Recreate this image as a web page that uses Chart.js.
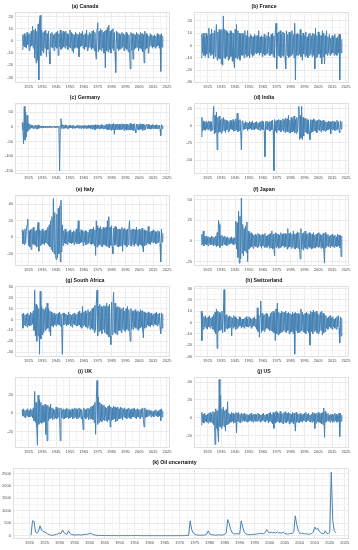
<!DOCTYPE html>
<html>
<head>
<meta charset="utf-8">
<script src="https://cdn.jsdelivr.net/npm/chart.js@4"></script>
<style>
  body { margin: 0; background: #fff; width: 358px; height: 550px; position: relative; overflow: hidden; }
  canvas { position: absolute; }
</style>
</head>
<body>
<script>
// half-year observations, 1920.5 .. 2022.0
const START_YEAR = 1920.5;
const STEP = 0.5;

const countryXTicks = [1925, 1935, 1945, 1955, 1965, 1975, 1985, 1995, 2005, 2015, 2025];
const oilXTicks = [1920, 1925, 1930, 1935, 1940, 1945, 1950, 1955, 1960, 1965, 1970, 1975, 1980, 1985, 1990, 1995, 2000, 2005, 2010, 2015, 2020, 2025];

const canada = [
  -7, 5, -4, 6, -5, 4, -6, 7, -3, 5, -8, 6, -5, 8, -4, 12, -6, 9, -14, 10,
  -18, 8, -16, 14, -32, 17, 21, -12, 9, -8, 7, -10, 8, -6, 9, -13, 6, -7, 8, -9,
  -19, 6, -5, 7, -6, 5, -8, 6, -5, 7, -6, 8, -12, 6, -5, 9, -7, 6, -6, 8,
  -5, 7, -6, 8, -4, 6, -7, 5, -5, 9, -6, 7, -8, 6, -10, 5, -6, 7, -5, 6,
  -6, 5, -13, 7, -5, 6, -4, 8, -6, 5, -7, 6, -5, 9, -8, 5, -6, 7, -5, 6,
  -7, 8, -6, 9, -8, 7, -9, -15, 10, 15, -9, 8, -7, 10, -8, 9, -6, 7, -10, 8,
  -22, 9, -8, 11, -9, 13, -7, 8, -10, 9, -6, 10, -8, 7, -9, -26, 8, -6, 7, -8,
  6, -7, 5, -6, 7, -5, 6, -8, 5, -6, 7, -7, 6, -9, 5, -6, -23, 7, -8, 6,
  -15, 6, -7, 5, -6, 7, -5, 6, -8, 5, -6, 7, -7, 6, -9, 5, -18, 8, -7, 6,
  -6, 5, -10, 4, -5, 6, -4, 5, -6, 4, -5, 5, -6, 4, -5, 6, -4, 5, -6, 5,
  -25, 6, -5, 4
];
const france = [
  -10, 9, -6, 10, -8, 7, -9, 10, -7, 8, -10, 14, -6, 9, -8, 13, -7, 10, -11, 12,
  -9, 10, 17, -12, 11, -10, 13, -11, 12, -15, 13, -16, 24, -10, 13, -11, 12, -9, 11, -12,
  10, -11, 12, -9, 11, -13, 10, -12, -18, 13, -10, 17, -11, 12, -9, 10, -12, 9, -8, 10,
  -8, 9, -10, 12, -7, 8, -9, 12, -8, 7, -10, 9, -7, 8, -9, 7, -8, 9, -6, 8,
  -7, 8, -6, 12, -8, 7, -6, 8, -9, 7, -7, 9, -8, 6, -7, 8, -6, 11, -8, 7,
  -8, 9, -7, 10, -9, 8, -10, 12, 18, -19, 10, -8, 11, -9, 12, -10, 9, -8, 11, -9,
  10, -9, -19, 12, -8, 9, -10, 11, -9, 10, -8, 12, -7, 9, -10, 18, -28, 9, -8, 10,
  -8, 9, -7, 13, -9, 8, -12, 10, -7, 8, -9, 11, -8, 7, -10, 9, -8, 10, -7, 8,
  -9, 10, -8, 9, -19, 14, -10, 8, -9, 11, -7, 9, -10, 8, -15, 12, -9, 10, -15, 8,
  -7, 12, -8, 7, -6, 9, -8, 6, -7, 8, -6, 7, -8, 9, -7, 6, -8, 7, -6, 9,
  -28, 9, -6, 5
];
const germany = [
  15, -10, -58, 70, -45, 50, -35, 40, -15, 12, -8, 10, -5, 6, -4, 5, -6, 4, -5, 6,
  -6, 5, -8, 7, -5, 4, -3, 4, -3, 3, -4, 3, -2, 3, -3, 2, -3, 3, -2, 3,
  -2, 2, -3, 2, -2, 3, -2, 2, -3, 2, -2, 3, -2, 2, -150, 5, 28, -6, 8, -5,
  6, -5, 7, -4, 5, -6, 4, -5, 6, -4, 5, -3, 4, -5, 6, -4, 3, -5, 4, -3,
  5, -4, 6, -5, 4, -6, 5, -3, 4, -5, 6, -4, 5, -6, 4, -5, 7, -4, 5, -6,
  6, -8, 7, -5, 6, -10, 8, -6, 7, -5, 6, -7, 5, -6, 8, -5, 6, -7, 5, -6,
  7, -8, 10, -9, 8, -10, 11, -8, 9, -12, 10, -9, 12, -25, 9, -10, 8, -9, 10, -8,
  9, -10, 8, -9, 11, -8, 10, -12, 9, -8, 10, -11, 9, -10, 8, -9, 12, -10, 9, -11,
  10, -12, 11, -9, -20, 10, -8, 9, -10, 8, -9, 11, -8, 10, -12, 9, -10, 8, -9, 7,
  8, -7, 9, -6, 7, -8, 6, -7, 8, -6, 7, -5, 6, -7, 8, -6, 5, -7, 6, -8,
  -30, 8, -6, 5
];
const india = [
  -16, 12, -8, 7, -6, 5, -7, 6, -5, 4, -6, 7, -5, 6, -8, 5, -6, 10, 28, -12,
  15, -10, 20, -35, 12, -10, 14, -9, 8, -11, 10, -8, 12, -7, 9, -10, 8, -6, 7, -9,
  6, -7, 8, -5, 7, -6, 9, -8, 6, -7, 10, -6, 18, -9, 8, -7, 9, -8, -35, 7,
  5, -6, 4, -5, 6, -4, 5, -7, 4, -5, 6, -4, 5, -6, 7, -5, 4, -6, 5, -4,
  6, -5, 4, -6, 5, -7, 6, -5, 7, -6, 5, -8, -45, 6, -5, 7, -6, 5, -7, 6,
  -8, 7, -6, 8, -7, -65, 9, -8, 7, -10, 8, -6, 9, -7, 8, -9, 7, -6, 10, -8,
  9, -10, 11, -8, 10, -9, 15, -10, 8, -11, 12, -9, 10, -8, 14, -10, 9, -11, 12, -9,
  10, 28, -20, 15, -18, 28, -20, 12, -15, 10, -9, 11, -10, 9, -12, 8, -8, -20, 9, -10,
  8, -9, 10, -7, 9, -8, 7, -10, 8, -6, 9, -7, 8, -9, 7, -6, 8, -7, 6, -8,
  6, -7, 5, -6, 7, -5, 6, -12, 5, -6, 7, -5, 6, -7, 5, -6, 8, -5, 6, -7,
  -10, 7, -5, 6
];
const italy = [
  9, -8, 7, -9, 10, -7, 8, 15, 22, -10, 8, -12, 9, -15, 10, -8, 12, -9, 7, -10,
  8, -12, 10, 18, -17, 9, -10, 8, -9, 10, -8, 7, -9, 8, -7, 9, -8, 12, -10, 15,
  -12, 20, -15, 25, -18, 47, -20, 30, -22, -27, 28, -25, 35, -20, 38, -30, 45, -18, 15, -10,
  8, -7, 10, -8, 6, -9, 7, -6, 8, -7, 9, -8, 6, -7, 8, -9, 7, -6, 10, -8,
  7, 20, -8, 6, -7, 9, -6, 8, -10, 7, -6, 8, -9, 7, -8, 6, -7, 9, -8, 10,
  -9, 10, -8, 12, -10, 9, -22, 20, -12, 14, -10, 11, -9, 13, -11, 10, -12, 12, -9, 11,
  -10, 12, -11, 20, -12, 25, -13, 12, -10, 14, -12, -20, 11, -10, 13, -9, 12, -11, 10, -12,
  10, -11, 9, -10, 12, -17, 10, -9, 11, -10, 9, -12, 10, -9, 11, 20, -10, 9, -11, 10,
  -9, 10, -11, 9, -8, 12, -10, 9, -11, 10, -9, 8, -10, 11, -12, -18, 9, -10, 8, -9,
  8, -7, 13, -8, 6, -9, 7, -6, 8, -7, 9, -6, 7, -8, 6, -7, 8, -6, 7, -8,
  -30, 10, -6, 5
];
const japan = [
  -5, 8, -4, 12, -6, 5, -4, 6, -5, 4, -6, 5, -3, 4, -5, 6, -4, 5, -6, 4,
  -5, 6, -7, 10, -6, 25, 20, -8, 6, -5, 7, -6, 5, -4, 6, -5, 4, -6, 5, -4,
  3, -4, 4, -3, 5, -4, 3, -5, 4, -3, 24, -10, 22, -20, 36, -27, 30, -22, 52, -15,
  20, -18, 15, -12, 18, -14, 23, -25, 12, -10, 9, -8, 10, -7, 8, -9, 7, -6, 8, -7,
  6, -8, 9, -7, 8, -6, 7, -9, 8, -6, 7, -8, 9, -7, 6, -8, 7, -6, 8, -9,
  9, -8, 12, -10, 8, -9, -18, 10, -8, 9, -7, 8, -9, 7, -8, 10, -7, 8, -6, 9,
  -8, 9, -7, 8, -10, 15, -8, 9, -7, 10, -9, 8, -7, 12, -9, 8, -10, 9, -8, 11,
  -9, 10, -8, -22, 15, -10, 9, -11, 10, -8, 12, -9, 8, -10, 9, -7, 10, -8, 9, -10,
  8, -9, 10, -8, 7, -9, 8, -7, 9, -8, 10, -7, 8, -9, 7, -8, 9, -10, -27, 10,
  -8, 7, -6, 8, -7, 6, -8, 7, -6, 8, -7, 6, -8, 7, -6, 5, -7, 8, -6, 7,
  -8, 7, -19, 6
];
const southAfrica = [
  5, -8, 6, -5, 4, -6, 5, -7, 6, -5, 4, -6, 7, -5, 6, -4, 8, -10, 27, -15,
  14, -20, 12, -15, 10, -32, 26, -18, 12, -14, 10, -12, 9, -10, 11, -9, 15, -8, 10, -11,
  8, -15, 7, -6, 5, -7, 6, -5, 4, -6, 5, -4, 6, -5, 7, -6, 5, -8, -32, 6,
  -5, 6, -4, 5, -6, 4, -5, 7, -4, 5, -6, 4, -7, 5, -4, 6, -5, 4, -6, 5,
  -6, 7, -5, 8, -7, 6, -8, 12, -6, 7, -5, 8, -7, 6, -8, 9, -6, 7, -9, 8,
  -8, 10, -9, 11, -12, 13, -10, 15, 27, -15, 12, -11, 14, -10, 12, -13, 11, -9, 13, -12,
  12, -13, 15, -14, 12, -16, 14, -15, -23, 16, -14, 13, 25, -12, 15, -13, 11, -14, 12, -10,
  11, -10, 9, -12, 10, -9, 11, -10, 8, -11, 10, -9, 12, -10, 9, -8, -20, 10, -9, 8,
  -9, 8, -7, 9, -8, 7, -9, 8, -10, 7, -8, 9, -7, 8, -9, -17, 7, -8, 6, -7,
  6, -5, 7, -6, 5, -7, 6, -5, 4, -6, 5, -4, 6, -5, 7, -6, 5, -4, 6, -7,
  -13, 6, -8, 5
];
const switzerland = [
  10, -16, 8, -6, 5, -4, 6, -5, 4, -6, 5, -4, 6, -5, 4, -3, 5, -6, 7, -8,
  9, -10, 12, -23, 10, -8, 9, -7, 8, -6, 10, -9, 8, 29, -8, 6, -5, 7, -6, 5,
  -5, 6, -4, 5, -12, 4, -5, 6, -4, 5, -6, 4, -5, 3, -4, 5, -3, 4, -5, 3,
  -4, 3, -5, 4, -3, 5, -4, 3, -4, 5, -3, 4, -5, 3, -4, 4, -3, 5, -4, 3,
  -6, 13, -8, 7, -13, 6, 19, -9, 8, -7, 6, -8, 7, -6, 8, -5, 7, -6, 5, -7,
  8, -7, 9, -8, 10, -9, 8, -16, 12, -10, 17, -11, 9, -10, 8, -9, 10, -8, 9, -7,
  9, -8, 10, -9, 8, -7, 9, -10, 8, -9, 7, -8, 9, -10, 8, -28, 9, -7, 8, -9,
  8, -9, 7, -8, 12, -7, 9, -8, 7, -9, 8, -10, 9, -7, 8, -9, 7, -20, 10, -8,
  9, -10, 11, -8, 9, -7, 10, -9, 8, -10, 7, -8, 9, -7, 10, -11, 8, -9, 7, -8,
  6, -5, 4, -6, 5, -4, 6, -5, 4, -6, 5, -4, 3, -5, 4, -6, 5, -4, 6, -5,
  -18, 5, -12, 4
];
const uk = [
  4, -3, 5, -4, 3, -5, 4, -3, 5, -4, 3, -4, 5, -3, 4, -5, 6, -8, 24, -10,
  12, -15, -35, 20, -12, 15, -10, 12, -11, 9, -10, 8, -9, 10, -23, 8, -30, 9, -8, 7,
  -6, 10, -5, 6, -7, 5, -6, 4, -5, 7, -6, 5, -4, 6, -5, -30, 6, -5, 4, -6,
  5, -6, 4, -5, 6, -4, 5, -6, 4, -5, 3, -4, 5, -6, 4, -5, 6, -4, 5, -6,
  4, -5, 6, -4, 5, -6, 4, -5, -18, 6, -5, 4, -6, 5, -4, 6, -7, 5, -6, 7,
  -6, 8, -7, 9, -10, 12, -23, 15, 36, -12, 18, -10, 12, -8, 10, -9, 8, -7, 9, -8,
  7, -8, 6, -9, 8, -7, 9, -15, 7, -8, 6, -7, 8, -6, 7, -9, 6, -8, 7, -6,
  5, -6, 7, -5, 6, -7, 5, -4, 6, -5, 4, -6, 5, -4, 6, -5, 4, -6, 5, -4,
  5, -4, 6, -5, 4, -6, 5, -4, 3, -5, 4, -6, 5, -4, 6, -7, -15, 6, -5, 4,
  -4, 3, -3, 4, -2, 3, -4, 3, -3, 2, -4, 3, -2, 4, -3, 2, -4, 3, -3, 4,
  -8, 5, -4, 3
];
const us = [
  -8, 6, -5, 4, -6, 5, -4, 3, -5, 4, -6, 5, -4, 6, -5, 4, -6, 7, -8, 6,
  -30, 10, -12, 8, -15, -27, 43, -10, 25, -12, 10, -9, 12, -10, 8, -15, 9, -8, 18, -7,
  5, -6, 4, -5, 6, -4, 5, -6, 4, -5, 6, -17, 5, -4, 6, -5, 4, -6, 5, -4,
  4, -3, 5, -4, 3, -4, 4, -5, 3, -4, 4, -3, 5, -4, 3, -5, 4, -3, 4, -4,
  3, -4, 5, -3, 4, -5, 3, -4, 4, -3, 5, -4, 3, -5, 4, -3, 4, -6, 5, -4,
  6, -5, 4, -7, 6, -12, 5, -6, 7, -5, 6, -4, 5, -6, 7, -5, 4, -6, 5, -7,
  6, -5, 7, -6, 5, -4, 6, -7, 5, -6, 4, -5, 6, -7, 5, -4, -15, 6, -5, 4,
  -5, 4, -6, 5, -4, 3, -5, 4, -3, 5, -4, 6, -5, 4, -3, 5, -4, 3, -5, 4,
  -5, 6, -4, 5, -12, 4, -6, 5, -4, 6, -5, 4, -6, 5, -7, 6, -8, 11, -22, 7,
  -5, 4, -3, 5, -4, 3, -5, 4, -3, 4, -5, 3, -4, 5, -3, 4, -5, 3, -4, 5,
  -21, 5, -4, 3
];
const oil = [
  20, 600, 580, 150, 100, 180, 400, 220, 180, 150, 120, 80, 50, 30, 20, 25, 40, 60, 80, 100,
  90, 230, 120, 80, 60, 200, 90, 50, 40, 35, 30, 45, 40, 30, 35, 50, 55, 60, 70, 100,
  90, 60, 40, 25, 20, 15, 12, 10, 10, 8, 8, 10, 8, 6, 6, 8, 6, 5, 6, 5,
  5, 6, 5, 6, 8, 6, 5, 10, 6, 5, 15, 8, 6, 5, 6, 5, 4, 5, 6, 5,
  5, 4, 5, 6, 5, 4, 5, 4, 5, 6, 5, 4, 5, 4, 5, 5, 4, 5, 6, 5,
  5, 6, 8, 10, 15, 20, 600, 250, 120, 60, 40, 30, 25, 20, 30, 25, 40, 60, 200, 80,
  50, 40, 30, 25, 30, 40, 35, 30, 40, 50, 120, 650, 500, 250, 120, 80, 70, 90, 80, 70,
  600, 350, 150, 80, 60, 50, 45, 50, 60, 55, 70, 80, 90, 100, 80, 90, 130, 250, 150, 120,
  150, 120, 140, 100, 160, 110, 130, 100, 150, 90, 80, 70, 80, 90, 100, 150, 800, 450, 200, 120,
  90, 100, 80, 90, 70, 60, 80, 90, 150, 350, 250, 300, 180, 120, 90, 80, 200, 100, 90, 150,
  2550, 600, 200, 120
];

const canadaYTicks = [-30, -20, -10, 0, 10, 20];
const franceYTicks = [-30, -20, -10, 0, 10, 20];
const germanyYTicks = [-150, -100, -50, 0, 50];
const indiaYTicks = [-50, -25, 0, 25];
const italyYTicks = [-20, 0, 20, 40];
const japanYTicks = [-25, 0, 25, 50];
const southAfricaYTicks = [-30, -20, -10, 0, 10, 20, 30];
const switzerlandYTicks = [-30, -20, -10, 0, 10, 20, 30];
const ukYTicks = [-20, 0, 20];
const usYTicks = [-20, 0, 20, 40];
const oilYTicks = [0, 500, 1000, 1500, 2000, 2500];

// canvas tops of the six rows
const rowTops = [0, 91, 183, 274, 365, 456];
const panels = [
  { title: '(a) Canada', values: canada, yTicks: canadaYTicks, yMin: -34.6, yMax: 23.6, col: 0, row: 0 },
  { title: '(b) France', values: france, yTicks: franceYTicks, yMin: -30.5, yMax: 27, col: 1, row: 0 },
  { title: '(c) Germany', values: germany, yTicks: germanyYTicks, yMin: -161, yMax: 81, col: 0, row: 1 },
  { title: '(d) India', values: india, yTicks: indiaYTicks, yMin: -70, yMax: 32.6, col: 1, row: 1 },
  { title: '(e) Italy', values: italy, yTicks: italyYTicks, yMin: -35, yMax: 51, col: 0, row: 2 },
  { title: '(f) Japan', values: japan, yTicks: japanYTicks, yMin: -30.5, yMax: 55.5, col: 1, row: 2 },
  { title: '(g) South Africa', values: southAfrica, yTicks: southAfricaYTicks, yMin: -34.5, yMax: 30.6, col: 0, row: 3 },
  { title: '(h) Switzerland', values: switzerland, yTicks: switzerlandYTicks, yMin: -30.5, yMax: 32, col: 1, row: 3 },
  { title: '(i) UK', values: uk, yTicks: ukYTicks, yMin: -38, yMax: 39.6, col: 0, row: 4 },
  { title: '(j) US', values: us, yTicks: usYTicks, yMin: -34, yMax: 45.5, col: 1, row: 4 },
  { title: '(k) Oil uncertainty', values: oil, yTicks: oilYTicks, yMin: -129, yMax: 2709, col: -1, row: 5 }
];

const FONT = "'Liberation Sans', Arial, sans-serif";

const panelBorder = {
  id: 'panelBorder',
  beforeDatasetsDraw(chart) {
    const { ctx, chartArea: a } = chart;
    ctx.save();
    ctx.strokeStyle = '#e0e0e0';
    ctx.lineWidth = 1;
    ctx.strokeRect(Math.round(a.left) + 0.5, Math.round(a.top) + 0.5, Math.round(a.width) - 1, Math.round(a.height) - 1);
    ctx.restore();
  }
};

function withMinors(majors, min, max) {
  const step = majors[1] - majors[0];
  const out = [];
  for (let v = majors[0] - step / 2; v <= majors[majors.length - 1] + step / 2 + 1e-9; v += step / 2) {
    if (v >= min && v <= max) out.push({ value: v, minor: !majors.includes(v) });
  }
  return out;
}

function drawPanel(p) {
  const isOil = p.col === -1;
  const left = isOil ? 0 : (p.col === 0 ? 0 : 179);
  const width = isOil ? 353 : 174;
  const yAxisWidth = isOil ? 13 : 15;
  const xMin = isOil ? 1914.5 : 1915.3;
  const xMax = isOil ? 2026.4 : 2027.2;
  const xTicks = isOil ? oilXTicks : countryXTicks;

  const canvas = document.createElement('canvas');
  canvas.width = width;
  canvas.height = 91;
  canvas.style.left = left + 'px';
  canvas.style.top = rowTops[p.row] + 'px';
  document.body.appendChild(canvas);

  const gridColor = c => (c.tick && c.tick.minor) ? '#f5f5f5' : '#ebebeb';

  new Chart(canvas, {
    type: 'line',
    data: {
      datasets: [{
        data: p.values.map((v, i) => ({ x: START_YEAR + i * STEP, y: v })),
        borderColor: '#4682b4',
        borderWidth: 1,
        borderJoinStyle: 'round',
        pointRadius: 0,
        tension: 0,
        fill: false
      }]
    },
    options: {
      responsive: false,
      devicePixelRatio: 1,
      animation: false,
      parsing: false,
      layout: { padding: { left: 0, right: 4, top: 0, bottom: 0 } },
      plugins: {
        legend: { display: false },
        tooltip: { enabled: false },
        title: {
          display: true,
          text: p.title,
          color: '#111',
          font: { family: FONT, size: 5.2, weight: 'bold' },
          padding: { top: 3.5, bottom: 2.5 }
        }
      },
      scales: {
        x: {
          type: 'linear',
          min: xMin,
          max: xMax,
          afterFit: s => { s.height = 8; },
          afterBuildTicks: s => {
            const half = (xTicks[1] - xTicks[0]) / 2;
            const ticks = [];
            for (let v = xTicks[0] - half; v <= xMax; v += half) {
              if (v >= xMin) ticks.push({ value: v, minor: !xTicks.includes(v) });
            }
            s.ticks = ticks;
          },
          grid: { color: gridColor, lineWidth: 1, drawTicks: false },
          border: { display: false },
          ticks: {
            autoSkip: false,
            maxRotation: 0,
            padding: 1,
            color: '#4d4d4d',
            font: { family: FONT, size: 4 },
            callback: (v, i, t) => t[i].minor ? '' : String(v)
          }
        },
        y: {
          type: 'linear',
          min: p.yMin,
          max: p.yMax,
          afterFit: s => { s.width = yAxisWidth; },
          afterBuildTicks: s => { s.ticks = withMinors(p.yTicks, p.yMin, p.yMax); },
          grid: { color: gridColor, lineWidth: 1, drawTicks: false },
          border: { display: false },
          ticks: {
            autoSkip: false,
            padding: 2,
            color: '#4d4d4d',
            font: { family: FONT, size: 4 },
            callback: (v, i, t) => t[i].minor ? '' : String(v)
          }
        }
      }
    },
    plugins: [panelBorder]
  });
}

panels.forEach(drawPanel);
</script>
</body>
</html>
